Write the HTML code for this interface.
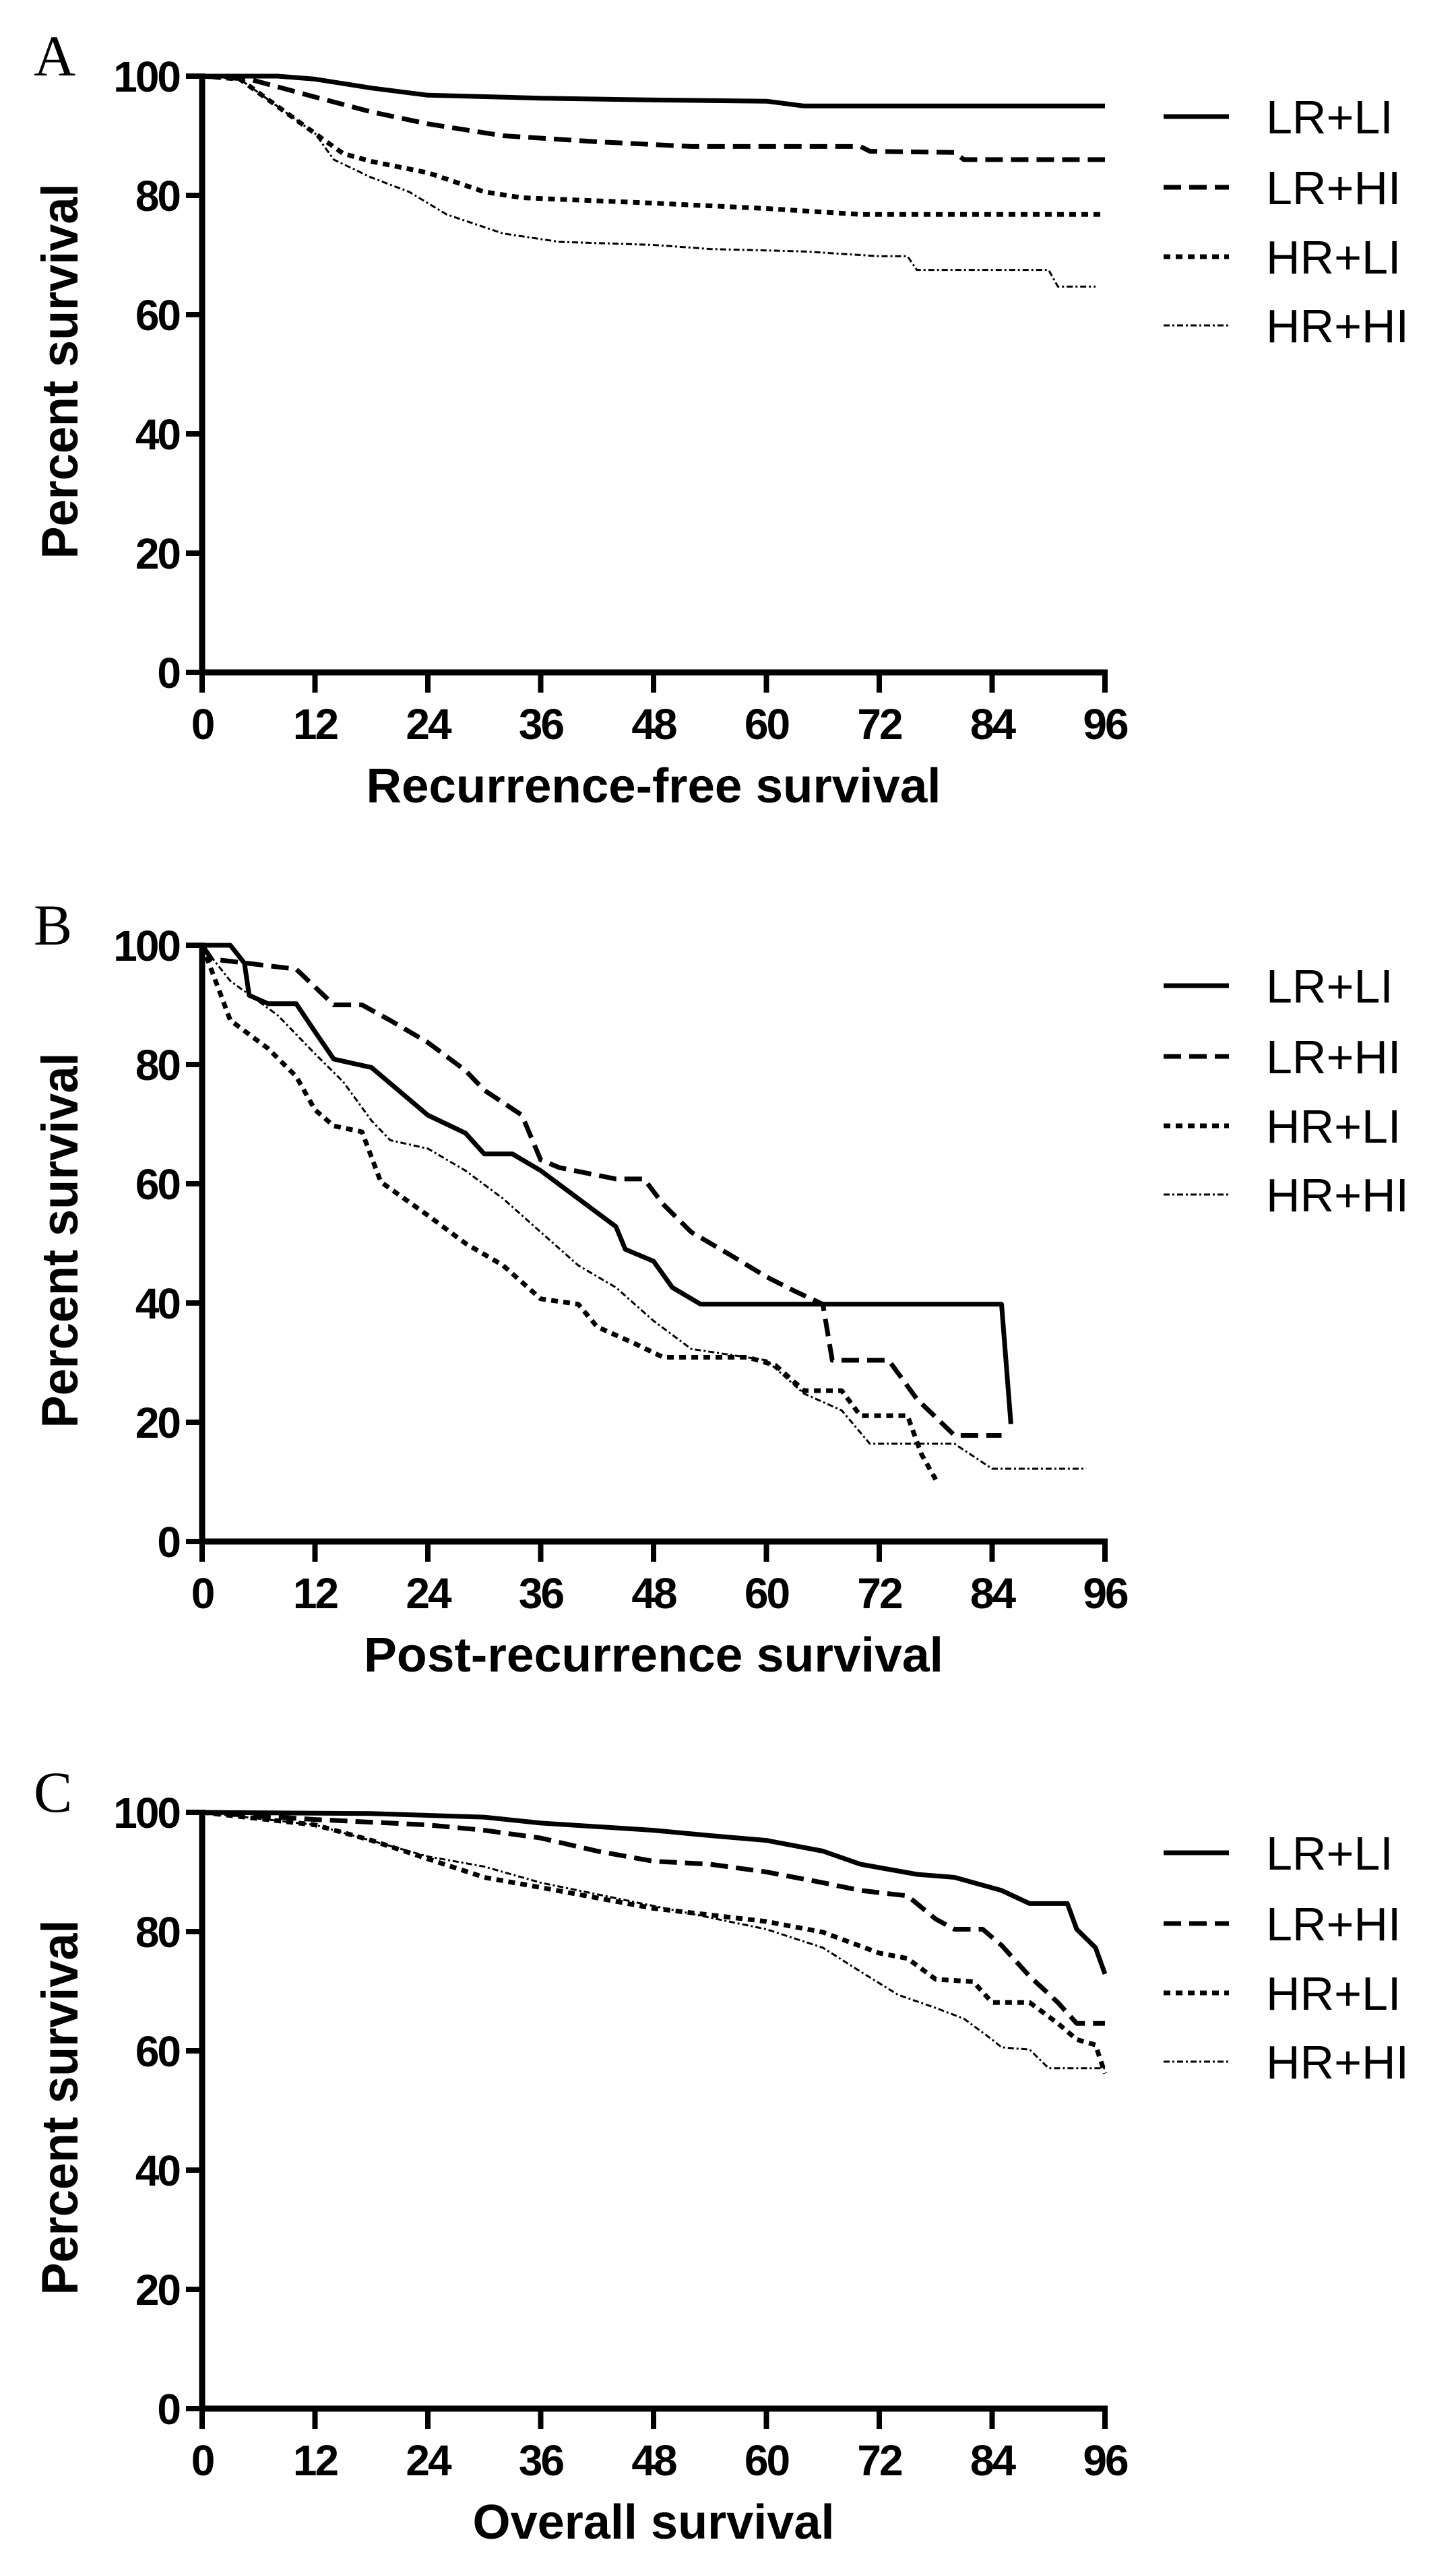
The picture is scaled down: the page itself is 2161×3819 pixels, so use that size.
<!DOCTYPE html>
<html><head><meta charset="utf-8"><style>
html,body{margin:0;padding:0;background:#fff;}
svg{display:block;}
</style></head><body>
<svg id="fig" width="2161" height="3819" viewBox="0 0 2161 3819" xmlns="http://www.w3.org/2000/svg" font-family="Liberation Sans, sans-serif"></svg>
<script>
const xTicks = [0,12,24,36,48,60,72,84,96];
const yTicks = [0,20,40,60,80,100];
const seriesNames = ["LR+LI","LR+HI","HR+LI","HR+HI"];
const panelLetters = ["A","B","C"];
const panelTitles = ["Recurrence-free survival","Post-recurrence survival","Overall survival"];

// Panel A: recurrence-free survival
const aLRLI_t = [0,8,12,18,24,36,48,60,64,96];
const aLRLI_v = [100,100,99.5,98,96.8,96.3,96,95.8,95,95];
const aLRHI_t = [0,5,12,18,24,32,42,52,70,71,80,81,96];
const aLRHI_v = [100,99.5,96.5,94,92,90,89,88.2,88.2,87.4,87.2,86,86];
const aHRLI_t = [0,4,12,15,18,24,30,34,48,60,70,96];
const aHRLI_v = [100,99.5,90.4,87,85.7,83.8,80.6,79.6,78.7,77.8,76.8,76.8];
const aHRHI_t = [0,4,12,14,18,22,26,32,38,48,54,64,72,75,76,90,91,95];
const aHRHI_v = [100,99.5,90.4,86,83,80.6,76.8,73.6,72.2,71.7,71,70.6,69.8,69.8,67.5,67.5,64.7,64.7];

// Panel B: post-recurrence survival
const bLRLI_t = [0,3,4.5,5,7,10,12,14,18,24,28,30,33,36,40,44,45,48,50,53,85,86];
const bLRLI_v = [100,100,97,91.6,90.2,90.2,85.5,80.9,79.5,71.5,68.5,65,65,62.2,57.5,52.8,49,47,42.6,39.8,39.8,19.7];
const bLRHI_t = [0,1,10,12,14,17,20,24,28,30,34,36,38,44,47,49,52,56,60,63,66,67,73,76,80,85];
const bLRHI_v = [100,97.7,96,93,90,90,87.4,83.7,79,75.7,71.5,64,62.7,60.8,60.8,56.6,51.9,48.2,44.4,42,39.8,30.4,30.4,23.9,17.8,17.8];
const bHRLI_t = [0,3,7,10,12,14,17,19,24,28,32,36,40,42,46,49,58,61,64,68,70,75,76.5,78];
const bHRLI_v = [100,87.4,82.7,78,72.4,69.7,68.7,60.3,54.7,50,46.3,40.7,39.8,36,33.2,30.9,30.9,29.5,25.3,25.3,21.1,21.1,14.6,10.4];
const bHRHI_t = [0,3,8,12,15,18,20,24,28,32,36,40,44,48,52,60,64,68,71,80,84,94];
const bHRHI_v = [100,94,88.3,81.8,77.1,70.6,67.3,65.9,62.2,57.5,51.9,46.3,42.6,37,32.3,30.4,24.8,22,16.4,16.4,12.2,12.2];

// Panel C: overall survival
const cLRLI_t = [0,18,30,36,48,54,60,66,70,76,80,85,88,92,93,95,96];
const cLRLI_v = [100,99.8,99.2,98.2,97,96.1,95.3,93.5,91.3,89.6,89.1,86.9,84.7,84.7,80.4,77.3,72.9];
const cLRHI_t = [0,12,24,30,36,42,48,54,60,66,70,75,78,80,83,85,88,91,93,96];
const cLRHI_v = [100,98.8,97.9,97,95.7,93.5,91.8,91.3,90,88.2,86.9,86,82.1,80.4,80.4,77.7,72.5,68.1,64.6,64.6];
const cHRLI_t = [0,12,18,24,30,36,48,60,66,72,75,78,82,84,88,91,93,95,96];
const cHRLI_v = [100,97.9,95.3,92.2,89.1,87.4,83.9,81.7,79.9,76.4,75.5,72,71.6,68.1,68.1,64.6,61.9,61,56.2];
const cHRHI_t = [0,12,24,30,36,48,60,66,70,74,78,81,84,85,88,90,96];
const cHRHI_v = [100,97.9,92.6,90.9,88.2,84.3,80.4,77.3,73.3,69.4,67.2,65.4,61.9,60.6,60.2,57.1,57.1];

const panelSeries = [
  [[aLRLI_t,aLRLI_v],[aLRHI_t,aLRHI_v],[aHRLI_t,aHRLI_v],[aHRHI_t,aHRHI_v]],
  [[bLRLI_t,bLRLI_v],[bLRHI_t,bLRHI_v],[bHRLI_t,bHRLI_v],[bHRHI_t,bHRHI_v]],
  [[cLRLI_t,cLRLI_v],[cLRHI_t,cLRHI_v],[cHRLI_t,cHRLI_v],[cHRHI_t,cHRHI_v]]
];

const NS = "http://www.w3.org/2000/svg";
const svg = document.getElementById("fig");
const X0 = 300, X1 = 1640;
const panelTops = [113, 1403, 2690];
const PH = 885;
const styles = [
  {w:7, dash:null},
  {w:7, dash:"26 12"},
  {w:7, dash:"10 8"},
  {w:3, dash:"9 4 3 4"}
];
const legendOffsets = [60,165,268,370];

function mk(tag, attrs, parent){
  const e = document.createElementNS(NS, tag);
  for (const k in attrs) e.setAttribute(k, attrs[k]);
  (parent||svg).appendChild(e);
  return e;
}

panelTops.forEach((top, p) => {
  const bottom = top + PH;
  const xs = v => X0 + (v/96)*(X1-X0);
  const ys = v => bottom - (v/100)*PH;
  const g = mk("g", {});
  
  

  const letter = mk("text", {x:50, y:top-1, "font-family":"Liberation Serif, serif", "font-size":86}, g);
  letter.textContent = panelLetters[p];
  
  

  // axes
  const yAxis = mk("line", {x1:X0, y1:top-4, x2:X0, y2:bottom+4, stroke:"#000", "stroke-width":9}, g);
  
  
  const xAxis = mk("line", {x1:X0-4, y1:bottom, x2:X1+4, y2:bottom, stroke:"#000", "stroke-width":9}, g);
  
  

  yTicks.forEach(t => {
    const tk = mk("line", {x1:X0-24, y1:ys(t), x2:X0, y2:ys(t), stroke:"#000", "stroke-width":8}, g);
    
    
    const lb = mk("text", {x:266, y:ys(t)+23, "text-anchor":"end", "font-size":64, "font-weight":"bold", transform:"", "letter-spacing":-3}, g);
    lb.textContent = t;
    
    
  });
  xTicks.forEach(t => {
    const tk = mk("line", {x1:xs(t), y1:bottom, x2:xs(t), y2:bottom+30, stroke:"#000", "stroke-width":8}, g);
    
    
    const lb = mk("text", {x:xs(t), y:bottom+99, "text-anchor":"middle", "font-size":64, "font-weight":"bold", "letter-spacing":-3}, g);
    lb.textContent = t;
    
    
  });

  const ttl = mk("text", {x:(X0+X1)/2 + (p===2?0:0), y:bottom+193, "text-anchor":"middle", "font-size":72, "font-weight":"bold", textLength: p===2?537:(p===1?860:853), lengthAdjust:"spacingAndGlyphs"}, g);
  ttl.textContent = panelTitles[p];
  
  

  const yt = mk("text", {x:0, y:0, "text-anchor":"middle", "font-size":76, "font-weight":"bold", textLength:557, lengthAdjust:"spacingAndGlyphs", transform:`translate(115 ${top+438}) rotate(-90)`}, g);
  yt.textContent = "Percent survival";
  
  

  panelSeries[p].forEach((s, i) => {
    const [tt, vv] = s;
    const pts = tt.map((t, k) => xs(t).toFixed(1) + "," + ys(vv[k]).toFixed(1)).join(" ");
    const attrs = {points:pts, fill:"none", stroke:"#000", "stroke-width":styles[i].w, "stroke-linejoin":"round"};
    if (styles[i].dash) attrs["stroke-dasharray"] = styles[i].dash;
    const pl = mk("polyline", attrs, g);
    
    

    const ly = top + legendOffsets[i];
    const la = {x1:1727, y1:ly, x2:1824, y2:ly, stroke:"#000", "stroke-width":styles[i].w};
    if (styles[i].dash) la["stroke-dasharray"] = styles[i].dash;
    const ll = mk("line", la, g);
    
    
    const lt = mk("text", {x:1879, y:ly+25, "font-size":70}, g);
    lt.textContent = seriesNames[i];
    
    
  });
});
</script>
</body></html>
